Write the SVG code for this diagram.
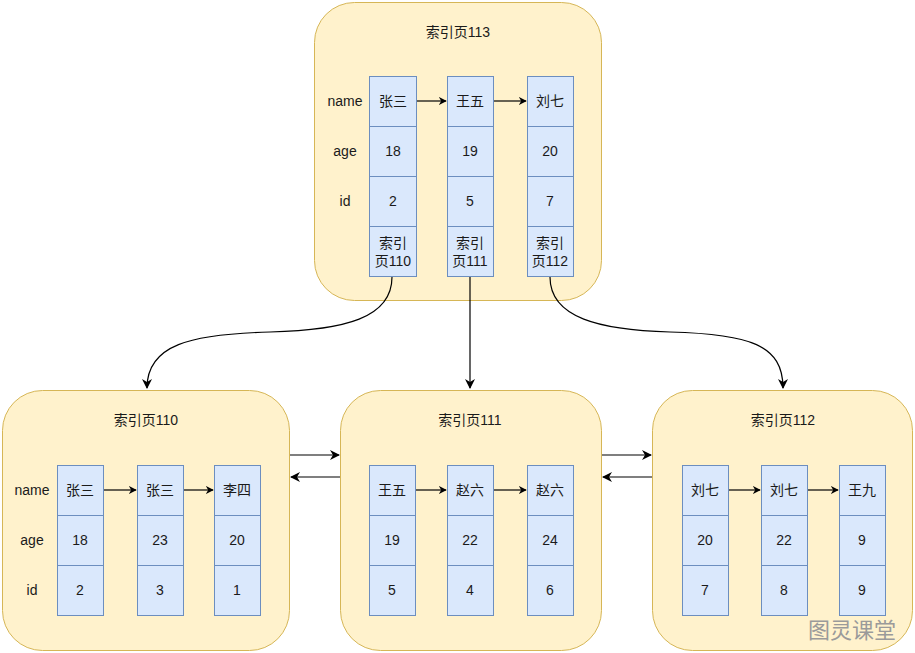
<svg xmlns="http://www.w3.org/2000/svg" width="915" height="653" viewBox="0 0 915 653">
<defs>
<marker id="ah" viewBox="0 0 10 10" refX="9" refY="5" markerWidth="8" markerHeight="8" markerUnits="userSpaceOnUse" orient="auto">
<path d="M0,0 L10,5 L0,10 L3,5 Z" fill="#000"/>
</marker>
<marker id="ah2" viewBox="0 0 10 10" refX="9" refY="5" markerWidth="10" markerHeight="10" markerUnits="userSpaceOnUse" orient="auto">
<path d="M0,0 L10,5 L0,10 L3,5 Z" fill="#000"/>
</marker>
<style>
.page{fill:#FFF2CC;stroke:#D6B656;stroke-width:1}
.cell{fill:#DAE8FC;stroke:#6C8EBF;stroke-width:1}
text{font-family:"Liberation Sans","Noto Sans CJK SC",Arial,sans-serif;font-size:14px;fill:#1a1a1a;text-anchor:middle;dominant-baseline:central}
.wm{font-size:22px;fill:#9a9a9a;font-family:"Noto Sans CJK SC",sans-serif}
.ln{stroke:#000;stroke-width:1.2;fill:none}
</style>
</defs>
<rect width="915" height="653" fill="#fff"/>

<g id="page113">
<rect class="page" x="314.5" y="2.5" width="287" height="298" rx="40"/>
<text x="458" y="32">索引页113</text>
<text x="345" y="101">name</text><text x="345" y="151">age</text><text x="345" y="201">id</text>
<rect class="cell" x="369.5" y="76.5" width="47" height="50"/><rect class="cell" x="369.5" y="126.5" width="47" height="50"/><rect class="cell" x="369.5" y="176.5" width="47" height="50"/><rect class="cell" x="369.5" y="226.5" width="47" height="50"/>
<rect class="cell" x="447.5" y="76.5" width="46" height="50"/><rect class="cell" x="447.5" y="126.5" width="46" height="50"/><rect class="cell" x="447.5" y="176.5" width="46" height="50"/><rect class="cell" x="447.5" y="226.5" width="46" height="50"/>
<rect class="cell" x="527.5" y="76.5" width="46" height="50"/><rect class="cell" x="527.5" y="126.5" width="46" height="50"/><rect class="cell" x="527.5" y="176.5" width="46" height="50"/><rect class="cell" x="527.5" y="226.5" width="46" height="50"/>
<text x="393" y="101">张三</text><text x="393" y="151">18</text><text x="393" y="201">2</text><text x="393" y="243">索引</text><text x="393" y="261">页110</text>
<text x="470" y="101">王五</text><text x="470" y="151">19</text><text x="470" y="201">5</text><text x="470" y="243">索引</text><text x="470" y="261">页111</text>
<text x="550" y="101">刘七</text><text x="550" y="151">20</text><text x="550" y="201">7</text><text x="550" y="243">索引</text><text x="550" y="261">页112</text>
</g>

<g id="page110">
<rect class="page" x="2.5" y="390.5" width="287" height="260" rx="40"/>
<text x="146" y="420">索引页110</text>
<text x="32" y="490">name</text><text x="32" y="540">age</text><text x="32" y="590">id</text>
<rect class="cell" x="57.5" y="465.5" width="46" height="50"/><rect class="cell" x="57.5" y="515.5" width="46" height="50"/><rect class="cell" x="57.5" y="565.5" width="46" height="50"/>
<rect class="cell" x="137.5" y="465.5" width="46" height="50"/><rect class="cell" x="137.5" y="515.5" width="46" height="50"/><rect class="cell" x="137.5" y="565.5" width="46" height="50"/>
<rect class="cell" x="214.5" y="465.5" width="46" height="50"/><rect class="cell" x="214.5" y="515.5" width="46" height="50"/><rect class="cell" x="214.5" y="565.5" width="46" height="50"/>
<text x="80" y="490">张三</text><text x="80" y="540">18</text><text x="80" y="590">2</text>
<text x="160" y="490">张三</text><text x="160" y="540">23</text><text x="160" y="590">3</text>
<text x="237" y="490">李四</text><text x="237" y="540">20</text><text x="237" y="590">1</text>
</g>

<g id="page111">
<rect class="page" x="340.5" y="390.5" width="261" height="260" rx="40"/>
<text x="470" y="420">索引页111</text>
<rect class="cell" x="369.5" y="465.5" width="46" height="50"/><rect class="cell" x="369.5" y="515.5" width="46" height="50"/><rect class="cell" x="369.5" y="565.5" width="46" height="50"/>
<rect class="cell" x="447.5" y="465.5" width="46" height="50"/><rect class="cell" x="447.5" y="515.5" width="46" height="50"/><rect class="cell" x="447.5" y="565.5" width="46" height="50"/>
<rect class="cell" x="527.5" y="465.5" width="46" height="50"/><rect class="cell" x="527.5" y="515.5" width="46" height="50"/><rect class="cell" x="527.5" y="565.5" width="46" height="50"/>
<text x="392" y="490">王五</text><text x="392" y="540">19</text><text x="392" y="590">5</text>
<text x="470" y="490">赵六</text><text x="470" y="540">22</text><text x="470" y="590">4</text>
<text x="550" y="490">赵六</text><text x="550" y="540">24</text><text x="550" y="590">6</text>
</g>

<g id="page112">
<rect class="page" x="652.5" y="390.5" width="260" height="260" rx="40"/>
<text x="783" y="420">索引页112</text>
<rect class="cell" x="682.5" y="465.5" width="46" height="50"/><rect class="cell" x="682.5" y="515.5" width="46" height="50"/><rect class="cell" x="682.5" y="565.5" width="46" height="50"/>
<rect class="cell" x="761.5" y="465.5" width="46" height="50"/><rect class="cell" x="761.5" y="515.5" width="46" height="50"/><rect class="cell" x="761.5" y="565.5" width="46" height="50"/>
<rect class="cell" x="839.5" y="465.5" width="46" height="50"/><rect class="cell" x="839.5" y="515.5" width="46" height="50"/><rect class="cell" x="839.5" y="565.5" width="46" height="50"/>
<text x="705" y="490">刘七</text><text x="705" y="540">20</text><text x="705" y="590">7</text>
<text x="784" y="490">刘七</text><text x="784" y="540">22</text><text x="784" y="590">8</text>
<text x="862" y="490">王九</text><text x="862" y="540">9</text><text x="862" y="590">9</text>
</g>

<g id="connectors">
<line class="ln" x1="417" y1="101" x2="446" y2="101" marker-end="url(#ah)"/>
<line class="ln" x1="494" y1="101" x2="526" y2="101" marker-end="url(#ah)"/>
<line class="ln" x1="104" y1="490" x2="136" y2="490" marker-end="url(#ah)"/>
<line class="ln" x1="184" y1="490" x2="213" y2="490" marker-end="url(#ah)"/>
<line class="ln" x1="416" y1="490" x2="446" y2="490" marker-end="url(#ah)"/>
<line class="ln" x1="494" y1="490" x2="526" y2="490" marker-end="url(#ah)"/>
<line class="ln" x1="729" y1="490" x2="760" y2="490" marker-end="url(#ah)"/>
<line class="ln" x1="808" y1="490" x2="838" y2="490" marker-end="url(#ah)"/>
<path class="ln" d="M392,277 C392,318 345,330 270,332 C190,334 147,345 147,388" marker-end="url(#ah2)"/>
<line class="ln" x1="470" y1="277" x2="470" y2="388" marker-end="url(#ah2)"/>
<path class="ln" d="M550,277 C550,318 600,330 670,332 C750,334 783,345 783,388" marker-end="url(#ah2)"/>
<line class="ln" x1="290" y1="455" x2="339" y2="455" marker-end="url(#ah2)"/>
<line class="ln" x1="340" y1="477" x2="291" y2="477" marker-end="url(#ah2)"/>
<line class="ln" x1="602" y1="455" x2="651" y2="455" marker-end="url(#ah2)"/>
<line class="ln" x1="652" y1="477" x2="603" y2="477" marker-end="url(#ah2)"/>
</g>
<text class="wm" x="852" y="628">图灵课堂</text>
</svg>
